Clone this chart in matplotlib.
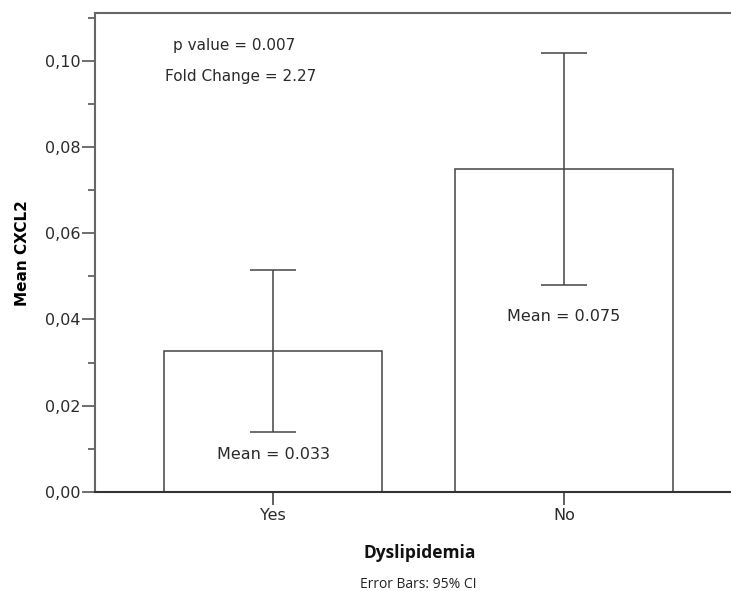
import numpy as np
import matplotlib
matplotlib.use("Agg")
import matplotlib.pyplot as plt
from matplotlib.ticker import FuncFormatter, MultipleLocator

# Values
groups = ["Yes", "No"]
means = [0.0326, 0.0749]
ci_low = [0.0138, 0.0481]
ci_high = [0.0515, 0.1018]
mean_labels = ["Mean = 0.033", "Mean = 0.075"]
mean_label_y = [0.0088, 0.0406]

fig = plt.figure(figsize=(7.31, 5.91), dpi=100)
ax = fig.add_axes([0.130, 0.1675, 0.885, 0.81])

x = np.arange(len(groups))
err = [np.array(means) - np.array(ci_low), np.array(ci_high) - np.array(means)]

ax.bar(x, means, width=0.75, color="white", edgecolor="#444444", linewidth=1.1, zorder=2)
ax.errorbar(x, means, yerr=err, fmt="none", ecolor="#444444", elinewidth=1.1,
            capsize=16.5, capthick=1.1, zorder=3)

for xi, lab, ly in zip(x, mean_labels, mean_label_y):
    ax.text(xi, ly, lab, ha="center", va="center", fontsize=11.5, color="#2a2a2a", zorder=4)

ax.text(-0.135, 0.1035, "p value = 0.007", ha="center", va="center", fontsize=11, color="#2a2a2a")
ax.text(-0.11, 0.0963, "Fold Change = 2.27", ha="center", va="center", fontsize=11, color="#2a2a2a")

ax.set_xlim(-0.612, 1.612)
ax.set_ylim(0, 0.111)
ax.set_xticks(x)
ax.set_xticklabels(groups, fontsize=11.5, color="#2a2a2a")
ax.yaxis.set_major_locator(MultipleLocator(0.02))
ax.yaxis.set_minor_locator(MultipleLocator(0.01))
ax.yaxis.set_major_formatter(FuncFormatter(lambda v, p: f"{v:.2f}".replace(".", ",")))
ax.tick_params(axis="y", labelsize=11.5, labelcolor="#2a2a2a", length=9.5, width=1.2,
               color="#555555", pad=1)
ax.tick_params(axis="y", which="minor", length=5, width=1.2, color="#555555")
ax.tick_params(axis="x", length=9.5, width=1.2, color="#444444", pad=2)

for s in ["left", "top"]:
    ax.spines[s].set_color("#666666")
    ax.spines[s].set_linewidth(1.5)
ax.spines["bottom"].set_color("#333333")
ax.spines["bottom"].set_linewidth(1.5)
ax.spines["right"].set_visible(False)

ax.set_ylabel("Mean CXCL2", fontsize=11, fontweight="bold")
ax.yaxis.set_label_coords(-0.1, 0.5)

fig.text(420 / 731, 1 - 553 / 591, "Dyslipidemia", ha="center", va="center",
         fontsize=12.5, fontweight="bold", family="Open Sans", color="#111111")
fig.text(418 / 731, 1 - 585 / 591, "Error Bars: 95% CI", ha="center", va="center",
         fontsize=10, family="Open Sans", color="#222222")

fig.savefig("out.png", dpi=100)
